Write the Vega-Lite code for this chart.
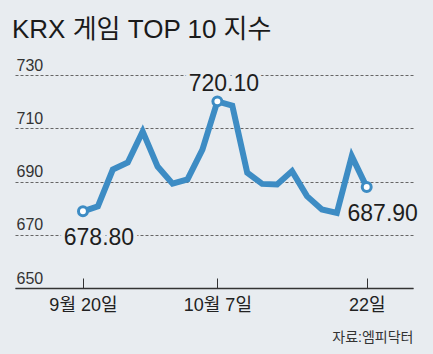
{
  "$schema": "https://vega.github.io/schema/vega-lite/v6.json",
  "width": 398,
  "height": 213,
  "autosize": "none",
  "padding": {"left": 15, "top": 75, "right": 20, "bottom": 66},
  "background": "#e8ecf0",
  "config": {"view": {"stroke": null}},
  "title": {
    "text": "KRX 게임 TOP 10 지수",
    "anchor": "start",
    "frame": "group",
    "orient": "top",
    "font": "Liberation Sans, Noto Sans CJK KR",
    "fontSize": 26,
    "fontWeight": "normal",
    "color": "#1a1a1a",
    "baseline": "alphabetic",
    "offset": 20,
    "dx": -3,
    "dy": 27
  },
  "data": {
    "values": [
      {"t": 0, "v": 678.8, "label": "678.80"},
      {"t": 1, "v": 680.7},
      {"t": 2, "v": 694.5},
      {"t": 3, "v": 697.1},
      {"t": 4, "v": 708.8},
      {"t": 5, "v": 695.6},
      {"t": 6, "v": 689.2},
      {"t": 7, "v": 690.8},
      {"t": 8, "v": 702.0},
      {"t": 9, "v": 720.1, "label": "720.10"},
      {"t": 10, "v": 718.5},
      {"t": 11, "v": 693.3},
      {"t": 12, "v": 689.1},
      {"t": 13, "v": 688.9},
      {"t": 14, "v": 693.9},
      {"t": 15, "v": 684.5},
      {"t": 16, "v": 679.5},
      {"t": 17, "v": 678.2},
      {"t": 18, "v": 699.5},
      {"t": 19, "v": 687.9, "label": "687.90"}
    ]
  },
  "encoding": {
    "x": {
      "field": "t",
      "type": "quantitative",
      "scale": {"domain": [-4.55, 22.1], "nice": false, "zero": false},
      "axis": {
        "values": [0, 9, 19],
        "labelExpr": "datum.value == 0 ? '9월 20일' : datum.value == 9 ? '10월 7일' : '22일'",
        "grid": false,
        "domainColor": "#333333",
        "domainWidth": 1.5,
        "tickColor": "#333333",
        "tickSize": -10,
        "tickWidth": 1,
        "labelFont": "Liberation Sans, Noto Sans CJK KR",
        "labelFontSize": 18,
        "labelColor": "#222222",
        "labelBaseline": "top",
        "labelPadding": 18,
        "title": "자료:엠피닥터",
        "titleAnchor": "end",
        "titleFont": "Liberation Sans, Noto Sans CJK KR",
        "titleFontSize": 14,
        "titleFontWeight": "normal",
        "titleColor": "#333333",
        "titlePadding": 16
      }
    },
    "y": {
      "field": "v",
      "type": "quantitative",
      "scale": {"domain": [650, 730], "nice": false, "zero": false},
      "axis": {
        "values": [650, 670, 690, 710, 730],
        "title": null,
        "grid": true,
        "gridDash": [3, 2],
        "gridColor": "#666666",
        "gridWidth": 1,
        "domain": false,
        "ticks": false,
        "tickSize": 0,
        "labelAlign": "left",
        "labelBaseline": "alphabetic",
        "labelPadding": -1,
        "labelOffset": -5,
        "labelFont": "Liberation Sans",
        "labelFontSize": 16,
        "labelColor": "#333333"
      }
    }
  },
  "layer": [
    {
      "mark": {"type": "line", "color": "#3d8cc4", "strokeWidth": 6, "strokeJoin": "miter"}
    },
    {
      "transform": [{"filter": "isValid(datum.label)"}],
      "mark": {"type": "point", "shape": "circle", "filled": true, "fill": "#ffffff", "stroke": "#3d8cc4", "strokeWidth": 3, "size": 80, "opacity": 1}
    },
    {
      "transform": [{"filter": "datum.t == 0 || datum.t == 19"}],
      "mark": {"type": "text", "font": "Liberation Sans", "fontSize": 23, "align": "center", "baseline": "alphabetic", "dx": 16, "dy": 33.5, "fill": "#e8ecf0", "stroke": "#e8ecf0", "strokeWidth": 8},
      "encoding": {"text": {"field": "label"}}
    },
    {
      "transform": [{"filter": "datum.t == 0 || datum.t == 19"}],
      "mark": {"type": "text", "font": "Liberation Sans", "fontSize": 23, "align": "center", "baseline": "alphabetic", "dx": 16, "dy": 33.5, "color": "#1e1e1e"},
      "encoding": {"text": {"field": "label"}}
    },
    {
      "transform": [{"filter": "datum.t == 9"}],
      "mark": {"type": "text", "font": "Liberation Sans", "fontSize": 23, "align": "center", "baseline": "alphabetic", "dx": 6.5, "dy": -10.5, "fill": "#e8ecf0", "stroke": "#e8ecf0", "strokeWidth": 8},
      "encoding": {"text": {"field": "label"}}
    },
    {
      "transform": [{"filter": "datum.t == 9"}],
      "mark": {"type": "text", "font": "Liberation Sans", "fontSize": 23, "align": "center", "baseline": "alphabetic", "dx": 6.5, "dy": -10.5, "color": "#1e1e1e"},
      "encoding": {"text": {"field": "label"}}
    }
  ]
}
